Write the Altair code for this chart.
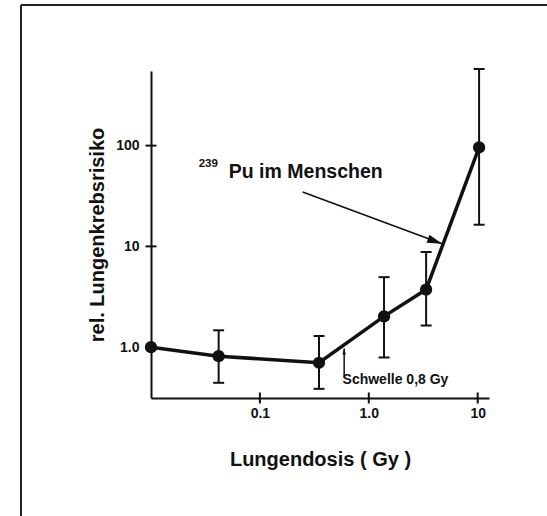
import altair as alt
import pandas as pd

# ---- data ----
dose = [0.01, 0.0418, 0.349, 1.38, 3.36, 10.3]
risk = [1.0, 0.814, 0.70, 2.02, 3.73, 96.0]
err_lo = [None, 0.443, 0.386, 0.79, 1.64, 16.4]
err_hi = [None, 1.47, 1.29, 4.95, 8.8, 576.0]

x_ticks = [0.1, 1.0, 10]
x_tick_labels = ["0.1", "1.0", "10"]
y_ticks = [1, 10, 100]
y_tick_labels = ["1.0", "10", "100"]

x_domain = [0.01, 12.7]
y_domain = [0.313, 550]

# annotation anchors (data coordinates)
pu_arrow_x = [0.247, 4.71]
pu_arrow_y = [34.7, 10.6]
pu_text = ["Pu im Menschen"]
pu_text_pos = [0.0518, 47.2]
iso_text = ["239"]
iso_text_pos = [0.0274, 60.7]
sw_arrow_x = [0.594]
sw_arrow_y = [0.503, 0.97]
sw_text = ["Schwelle 0,8 Gy"]
sw_text_pos = [0.574, 0.433]

FONT = "Liberation Sans"
INK = "#111111"

df = pd.DataFrame({"dose": dose, "risk": risk, "lo": err_lo, "hi": err_hi})
df_err = df.dropna()

xs = alt.Scale(type="log", domain=x_domain, nice=False)
ys = alt.Scale(type="log", domain=y_domain, nice=False)


def label_expr(vals, labels):
    expr = "''"
    for v, l in reversed(list(zip(vals, labels))):
        expr = f"(abs(datum.value - {v}) < {v}*1e-6) ? '{l}' : ({expr})"
    return expr


x_axis = alt.Axis(
    values=x_ticks, labelExpr=label_expr(x_ticks, x_tick_labels), ticks=False,
    grid=False, domainWidth=2, domainColor=INK, labelFont=FONT,
    labelFontWeight="bold", labelFontSize=14, labelColor=INK, labelPadding=8,
    labelFlush=False, labelOverlap=False,
    title="Lungendosis ( Gy )", titleFont=FONT, titleFontSize=20,
    titleFontWeight="bold", titleColor=INK, titleY=67.5,
    titleBaseline="alphabetic",
)
y_axis = alt.Axis(
    values=y_ticks, labelExpr=label_expr(y_ticks, y_tick_labels), ticks=False,
    grid=False, domainWidth=2, domainColor=INK, labelFont=FONT,
    labelFontWeight="bold", labelFontSize=14, labelColor=INK, labelPadding=12,
    labelFlush=False, labelOverlap=False,
    title="rel. Lungenkrebsrisiko", titleFont=FONT, titleFontSize=20,
    titleFontWeight="bold", titleColor=INK, titleAngle=270, titleX=-47.5,
    titleBaseline="alphabetic", titleAlign="center",
)


def X(field):
    return alt.X(field, type="quantitative", scale=xs, axis=x_axis)


def Y(field):
    return alt.Y(field, type="quantitative", scale=ys, axis=y_axis)


# outer frame (left and top edges of the scanned page box)
frame_df = pd.DataFrame({"k": [0]})
frame_left = alt.Chart(frame_df).mark_rule(color="#222222", strokeWidth=2).encode(
    x=alt.value(-130), x2=alt.value(-130), y=alt.value(-66), y2=alt.value(450)
)
frame_top = alt.Chart(frame_df).mark_rule(color="#222222", strokeWidth=2).encode(
    x=alt.value(-130), x2=alt.value(400), y=alt.value(-66), y2=alt.value(-66)
)

# axis ticks crossing the axis lines
xt_df = pd.DataFrame({"v": x_ticks, "b": [y_domain[0]] * len(x_ticks)})
yt_df = pd.DataFrame({"v": y_ticks, "b": [x_domain[0]] * len(y_ticks)})
x_tickmarks = alt.Chart(xt_df).mark_tick(
    orient="vertical", size=11, thickness=2, color=INK, opacity=1
).encode(x=X("v"), y=Y("b"))
y_tickmarks = alt.Chart(yt_df).mark_tick(
    orient="horizontal", size=11, thickness=2, color=INK, opacity=1
).encode(x=X("b"), y=Y("v"))

# error bars
err_rule = alt.Chart(df_err).mark_rule(color=INK, strokeWidth=2).encode(
    x=X("dose"), y=Y("lo"), y2="hi:Q",
)
cap_lo = alt.Chart(df_err).mark_tick(
    orient="horizontal", size=11, thickness=2, color=INK, opacity=1
).encode(x=X("dose"), y=Y("lo"))
cap_hi = alt.Chart(df_err).mark_tick(
    orient="horizontal", size=11, thickness=2, color=INK, opacity=1
).encode(x=X("dose"), y=Y("hi"))

line = alt.Chart(df).mark_line(color=INK, strokeWidth=3.5).encode(
    x=X("dose"), y=Y("risk"),
)
points = alt.Chart(df).mark_circle(color=INK, size=150, opacity=1).encode(
    x=X("dose"), y=Y("risk")
)

# annotation: 239Pu im Menschen with arrow
pu_arrow_df = pd.DataFrame({"x": [pu_arrow_x[0]], "y": [pu_arrow_y[0]],
                            "x2": [pu_arrow_x[1]], "y2": [pu_arrow_y[1]]})
pu_shaft = alt.Chart(pu_arrow_df).mark_rule(color=INK, strokeWidth=1.6).encode(
    x=X("x"), y=Y("y"), x2="x2:Q", y2="y2:Q",
)
ARROW = "M0,0L0.28,1L-0.28,1Z"
pu_head = alt.Chart(pu_arrow_df).mark_point(
    shape=ARROW, size=900, angle=110, filled=True, color=INK, opacity=1
).encode(x=X("x2"), y=Y("y2"))

pu_df = pd.DataFrame({"t": pu_text, "x": [pu_text_pos[0]], "y": [pu_text_pos[1]]})
pu_label = alt.Chart(pu_df).mark_text(
    font=FONT, fontSize=19.5, fontWeight="bold", color=INK, align="left",
    baseline="alphabetic"
).encode(x=X("x"), y=Y("y"), text="t:N")
iso_df = pd.DataFrame({"t": iso_text, "x": [iso_text_pos[0]], "y": [iso_text_pos[1]]})
iso_label = alt.Chart(iso_df).mark_text(
    font=FONT, fontSize=11.5, fontWeight="bold", color=INK, align="left",
    baseline="alphabetic"
).encode(x=X("x"), y=Y("y"), text="t:N")

# annotation: Schwelle 0,8 Gy with small arrow
sw_arrow_df = pd.DataFrame({"x": sw_arrow_x, "y": [sw_arrow_y[0]], "y2": [sw_arrow_y[1]]})
sw_shaft = alt.Chart(sw_arrow_df).mark_rule(color=INK, strokeWidth=1.5).encode(
    x=X("x"), y=Y("y"), y2="y2:Q"
)
sw_head = alt.Chart(sw_arrow_df).mark_point(
    shape=ARROW, size=150, angle=0, filled=True, color=INK, opacity=1
).encode(x=X("x"), y=Y("y2"))
sw_df = pd.DataFrame({"t": sw_text, "x": [sw_text_pos[0]], "y": [sw_text_pos[1]]})
sw_label = alt.Chart(sw_df).mark_text(
    font=FONT, fontSize=14, fontWeight="bold", color=INK, align="left",
    baseline="alphabetic"
).encode(x=X("x"), y=Y("y"), text="t:N")

chart = alt.layer(
    line, frame_left, frame_top, x_tickmarks, y_tickmarks, err_rule, cap_lo, cap_hi,
    points, pu_shaft, pu_head, pu_label, iso_label, sw_shaft, sw_head, sw_label,
).properties(
    width=338, height=327,
    autosize=alt.AutoSizeParams(type="none"),
    padding={"left": 151, "top": 71, "right": 58, "bottom": 118},
    background="white",
).configure_view(stroke=None)

chart.save("out.html", embed_options={"renderer": "svg", "actions": False})
